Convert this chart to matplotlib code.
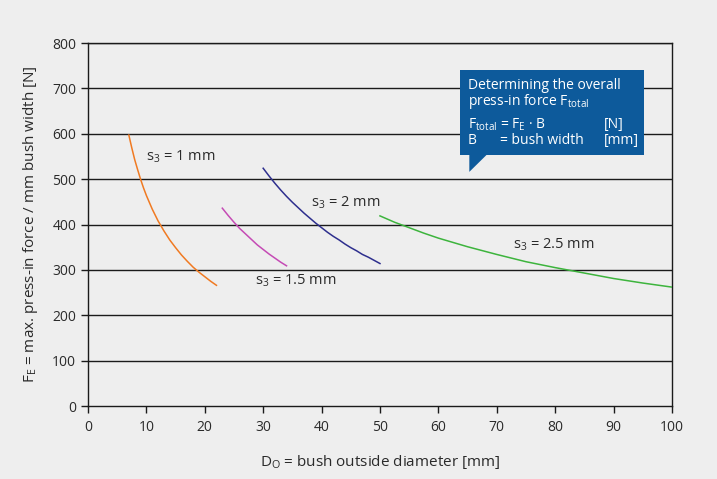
import numpy as np
import matplotlib
matplotlib.use("Agg")
import matplotlib.pyplot as plt
from matplotlib.patches import Polygon, Rectangle

plt.rcParams['font.family'] = ['Open Sans', 'DejaVu Sans']
plt.rcParams['mathtext.fontset'] = 'custom'
plt.rcParams['mathtext.rm'] = 'Open Sans'
plt.rcParams['mathtext.it'] = 'Open Sans'
plt.rcParams['mathtext.default'] = 'regular'

# Curves (D_O in mm, F_E in N/mm)
d_s1 = [7, 7.5, 8, 8.5, 9, 9.5, 10, 11, 12, 13, 14, 15, 16, 17, 18, 19, 20, 21, 22]
f_s1 = [597, 569, 543, 521, 500, 481, 464, 434, 408, 386, 366, 349, 333, 319, 306, 295, 285, 275, 266]

d_s15 = [23, 24, 25, 26, 27, 28, 29, 30, 31, 32, 33, 34]
f_s15 = [436, 420, 405, 391, 379, 367, 355, 345, 335, 326, 317, 309]

d_s2 = [30, 31, 32, 33, 34, 35, 36, 37, 38, 39, 40, 41, 42, 43, 44, 45, 46, 47, 48, 49, 50]
f_s2 = [524, 507, 491, 476, 462, 449, 437, 425, 414, 403, 393, 383, 374, 366, 357, 349, 342,
        334, 328, 321, 314]

d_s25 = [50, 52.5, 55, 57.5, 60, 65, 70, 75, 80, 85, 90, 95, 100]
f_s25 = [419, 405, 393, 381, 370, 351, 334, 318, 305, 293, 281, 271, 262]

labels = ['$s_3$ = 1 mm', '$s_3$ = 1.5 mm', '$s_3$ = 2 mm', '$s_3$ = 2.5 mm']
colors = ['#F07A22', '#C54BB5', '#2E2F8E', '#3DB43D']

x_ticks = list(range(0, 101, 10))
y_ticks = list(range(0, 801, 100))

bg = '#EEEEEE'
ink = '#2a2a2a'
fig = plt.figure(figsize=(7.17, 4.79), dpi=100, facecolor=bg)
ax = fig.add_axes([0.1227, 0.1524, 0.8145, 0.7578])
ax.set_facecolor(bg)

for y in y_ticks[1:]:
    ax.axhline(y, color='#1a1a1a', lw=1.0, zorder=1)

for (d, f), c in zip([(d_s1, f_s1), (d_s15, f_s15), (d_s2, f_s2), (d_s25, f_s25)], colors):
    ax.plot(d, f, color=c, lw=1.1, zorder=3, solid_joinstyle='round')

# curve labels
txt_kw = dict(fontsize=10.5, color=ink, va='center', ha='left', zorder=4)
ax.text(9.9, 549, labels[0], **txt_kw)
ax.text(28.6, 275, labels[1], **txt_kw)
ax.text(38.2, 447, labels[2], **txt_kw)
ax.text(72.8, 355, labels[3], **txt_kw)

ax.set_xlim(0, 100)
ax.set_ylim(0, 800)
ax.set_xticks(x_ticks)
ax.set_yticks(y_ticks)
ax.tick_params(axis='both', direction='out', length=5, width=1, color='#1a1a1a',
               labelsize=10, labelcolor=ink)
ax.tick_params(axis='x', pad=5)
for s in ax.spines.values():
    s.set_color('#1a1a1a')
    s.set_linewidth(1.0)

ax.set_xlabel('$D_O$ = bush outside diameter [mm]', fontsize=11, color=ink, labelpad=13)
ax.set_ylabel('$F_E$ = max. press-in force / mm bush width [N]', fontsize=11,
              color=ink, labelpad=9)

# info box
box_col = '#0D5A9B'
ax.add_patch(Rectangle((63.7, 553), 31.5, 187, facecolor=box_col, edgecolor='none', zorder=5))
ax.add_patch(Polygon([(65.3, 554), (68.3, 554), (65.3, 516)], closed=True,
                     facecolor=box_col, edgecolor='none', zorder=5))
wkw = dict(color='white', fontsize=10, va='center', ha='left', zorder=6)
ax.text(65.0, 706, 'Determining the overall', **wkw)
ax.text(65.0, 670, 'press-in force $F_{total}$', **wkw)
ax.text(65.0, 620, '$F_{total}$', fontsize=10, color='white', va='center', ha='left', zorder=6)
ax.text(70.6, 620, '= $F_E$ · B', **wkw)
ax.text(88.4, 620, '[N]', **wkw)
ax.text(65.0, 586, 'B', **wkw)
ax.text(70.6, 586, '= bush width', **wkw)
ax.text(88.4, 586, '[mm]', **wkw)

fig.savefig('out.png', dpi=100, facecolor=bg)
